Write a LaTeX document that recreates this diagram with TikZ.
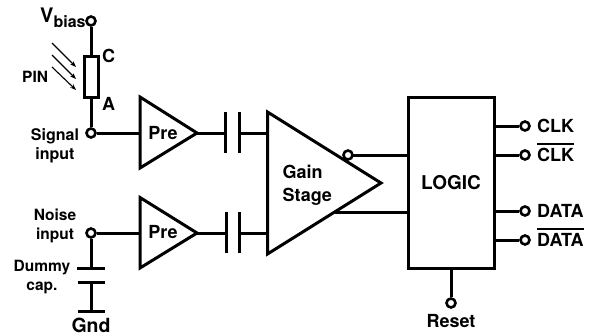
\documentclass[tikz,border=0pt]{standalone}
\usepackage{fontspec}
\setmainfont{TeX Gyre Heros}
\usetikzlibrary{arrows.meta}
\tikzset{
  wire/.style={line width=3pt,line cap=butt},
  shapeline/.style={line width=3pt,line join=miter,fill=white},
  term/.style={circle,draw,line width=2.6pt,fill=white,minimum size=9pt,inner sep=0pt},
  lab/.style={font=\fontsize{18}{20}\selectfont\bfseries,inner sep=0pt,align=center},
  slab/.style={font=\fontsize{15.5}{18.5}\selectfont\bfseries,inner sep=0pt,align=center},
  ray/.style={line width=1.1pt,-{Stealth[length=6pt,width=4.5pt]}},
}
\begin{document}
\begin{tikzpicture}[x=1pt,y=-1pt]
\useasboundingbox (0,0) rectangle (589,335);
% PIN diode
\node[term] (vb) at (91,21) {};
\node[term] (sig) at (91,133) {};
\node[term] (noi) at (91,233) {};
\node[term] (oa) at (525,126) {};
\node[term] (ob) at (525,155) {};
\node[term] (oc) at (525,211) {};
\node[term] (od) at (525,240) {};
\node[term] (rs) at (451,303) {};
\node[draw,shapeline,minimum width=14pt,minimum height=41pt,inner sep=0pt] (pin) at (91,76.5) {};
\draw[wire] (vb) -- (pin.north);
\draw[wire] (pin.south) -- (sig);
\coordinate (r1a) at (52,43); \coordinate (r1b) at (76,67);
\coordinate (r2a) at (52,55); \coordinate (r2b) at (76,79);
\coordinate (r3a) at (52,67); \coordinate (r3b) at (76,90);
\draw[ray] (r1a) -- (r1b);
\draw[ray] (r2a) -- (r2b);
\draw[ray] (r3a) -- (r3b);
% coordinates
\coordinate (p1in) at (140,133); \coordinate (p1out) at (197,133);
\coordinate (p2in) at (140,233); \coordinate (p2out) at (197,233);
\coordinate (c1l) at (226,133); \coordinate (c1r) at (239,133);
\coordinate (c2l) at (226,233); \coordinate (c2r) at (239.5,233);
\coordinate (g1) at (267,133); \coordinate (g2) at (267,233);
\coordinate (gb) at (335,212);
\coordinate (bubc) at (348,155);
% logic block
\node[draw,shapeline,minimum width=86pt,minimum height=171pt,inner sep=0pt,lab,font=\fontsize{19}{20}\selectfont\bfseries] (logic) at (451,183) {LOGIC};
% wires
\draw[wire] (sig) -- (p1in);
\draw[wire] (noi) -- (p2in);
\draw[wire] (p1out) -- (c1l);
\draw[wire] (p2out) -- (c2l);
\draw[wire] (c1r) -- (g1);
\draw[wire] (c2r) -- (g2);
\draw[wire] (gb) -- (gb -| logic.west);
\draw[wire] (bubc) -- (bubc -| logic.west);
\draw[wire] (oa -| logic.east) -- (oa);
\draw[wire] (ob -| logic.east) -- (ob);
\draw[wire] (oc -| logic.east) -- (oc);
\draw[wire] (od -| logic.east) -- (od);
\draw[wire] (rs |- logic.south) -- (rs);
% capacitors
\foreach \x/\yt/\yb in {225.7/112/153,239.3/112/153,226/212/253,239.6/212/253}{
  \draw[wire] (\x,\yt) -- (\x,\yb);
}
% triangles
\draw[shapeline] (140,97) -- (197,133) -- (140,168) -- cycle;
\draw[shapeline] (140,197.5) -- (197,233) -- (140,268) -- cycle;
\draw[shapeline] (267.5,112) -- (381,183) -- (267.5,254) -- cycle;
\node[term] (bub) at (bubc) {};
\node[lab] (pre1) at (163,133) {Pre};
\node[lab] (pre2) at (163,232.5) {Pre};
\node[lab,anchor=base west] (gain) at (282.5,178) {Gain};
\node[lab,anchor=base west] (stage) at (282.5,201) {Stage};
% dummy cap
\coordinate (dt) at (91,268); \coordinate (db) at (91,282); \coordinate (dg) at (91,311);
\draw[wire] (noi) -- (dt);
\draw[wire] (db) -- (dg);
\draw[wire] (77,268) -- (105,268);
\draw[wire] (77.5,282) -- (105,282);
\draw[wire] (77.5,311) -- (105,311);
% labels
\node[lab,anchor=base west] (vt) at (40,22) {\fontsize{20}{20}\selectfont V\raisebox{-5pt}{\fontsize{16}{16}\selectfont bias}};
\node[lab,anchor=base west] (cl) at (102,62) {C};
\node[lab,anchor=base west] (al) at (102,110) {A};
\node[font=\fontsize{15.5}{17}\selectfont\bfseries,inner sep=0pt,anchor=base west] (pl) at (22,82) {PIN};
\node[slab,font=\fontsize{16}{18.5}\selectfont\bfseries] (sl) at (55,146) {Signal\\input};
\node[slab] (nl) at (55,226) {Noise\\input};
\node[slab] (dl) at (42,277) {Dummy\\cap.};
\node[font=\fontsize{19.5}{20}\selectfont\bfseries,inner sep=0pt] (gl) at (91,325) {Gnd};
\node[font=\fontsize{18}{20}\selectfont\bfseries,inner sep=0pt] (rl) at (451,321) {Reset};
\node[lab,anchor=base west] (t1) at (537,132) {CLK};
\node[lab,anchor=base west] (t2) at (537,161) {CLK};
\node[lab,anchor=base west] (t3) at (537,217) {DATA};
\node[lab,anchor=base west] (t4) at (537,246) {DATA};
\draw[line width=2pt] (t2.west |- 0,143.5) -- (t2.east |- 0,143.5);
\draw[line width=2pt] (t4.west |- 0,228.5) -- (t4.east |- 0,228.5);
\end{tikzpicture}
\end{document}
